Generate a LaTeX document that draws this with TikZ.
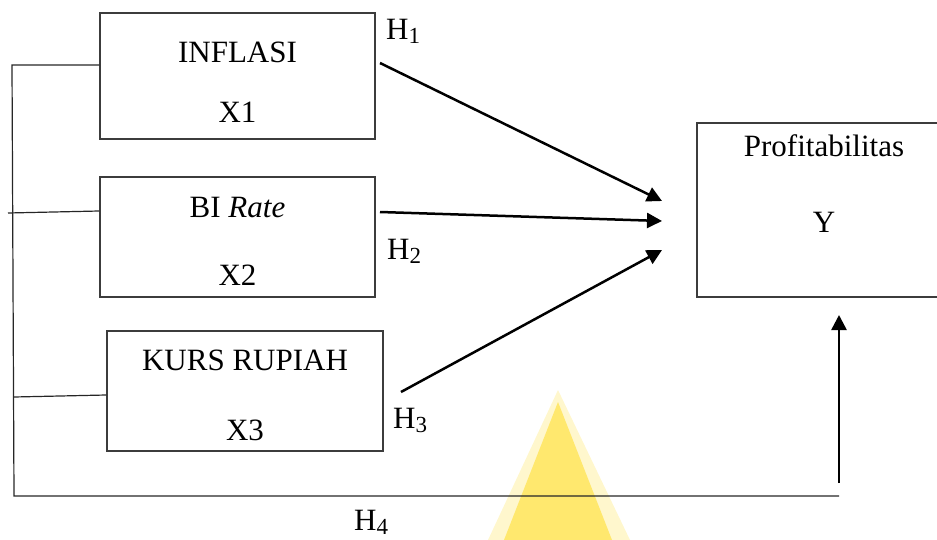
\documentclass[tikz,border=0pt]{standalone}
\usepackage{fontspec}
\setmainfont{Liberation Serif}
\usetikzlibrary{arrows.meta,calc}
\definecolor{wmouter}{RGB}{255,247,205}
\definecolor{wminner}{RGB}{255,232,110}
\definecolor{boxline}{RGB}{60,60,60}
\begin{document}
\begin{tikzpicture}[x=1pt,y=-1pt,
  txt/.style={font=\fontsize{31}{37}\selectfont, inner sep=0pt, anchor=base},
  hlab/.style={font=\fontsize{31}{37}\selectfont, inner sep=0pt, anchor=base west},
  varbox/.style={draw=boxline, line width=1.4pt, inner sep=0pt},
  conn/.style={draw=black!85, line width=1.2pt},
  arr/.style={draw=black, line width=2.5pt, -{Triangle[length=15pt,width=15pt]}}]
\useasboundingbox (0,0) rectangle (937,540);
% watermark
\fill[wmouter] (558,390) -- (630,540) -- (488,540) -- cycle;
\fill[wminner] (558,402) -- (612,540) -- (504,540) -- cycle;
% boxes
\node[varbox, minimum width=275pt, minimum height=126pt] (b1) at (237.5,76) {};
\node[varbox, minimum width=275pt, minimum height=120pt] (b2) at (237.5,237) {};
\node[varbox, minimum width=276pt, minimum height=120pt] (b3) at (245,391) {};
\node[varbox, minimum width=252pt, minimum height=174pt] (by) at (823,210) {};
% box texts
\node[txt] (t1a) at (237.5,63) {INFLASI};
\node[txt] (t1b) at (237.5,123) {X1};
\node[txt] (t2a) at (237.5,218) {BI \textit{Rate}};
\node[txt] (t2b) at (237.5,285) {X2};
\node[txt] (t3a) at (245,370) {KURS RUPIAH};
\node[txt] (t3b) at (245,440) {X3};
\node[txt] (tya) at (824,157) {Profitabilitas};
\node[txt] (tyb) at (824,233) {Y};
% hypothesis labels
\node[hlab] (h1) at (386,40) {H\raisebox{-4pt}{\fontsize{23}{23}\selectfont 1}};
\node[hlab] (h2) at (387,259) {H\raisebox{-4pt}{\fontsize{23}{23}\selectfont 2}};
\node[hlab] (h3) at (393,428) {H\raisebox{-4pt}{\fontsize{23}{23}\selectfont 3}};
\node[hlab] (h4) at (354,530) {H\raisebox{-4pt}{\fontsize{23}{23}\selectfont 4}};
% arrow coordinates
\coordinate (s1) at (380,63);
\coordinate (e1) at (662,201);
\coordinate (s2) at (380,212);
\coordinate (e2) at (662,221);
\coordinate (s3) at (401,392);
\coordinate (e3) at (662,250);
\coordinate (ua) at (839,483);
\coordinate (ut) at (839,315);
% left bracket coordinates
\coordinate (l1) at (12,65);
\coordinate (l2) at (8,213);
\coordinate (l3) at (14,397);
\coordinate (lb) at (14,496);
\coordinate (lr) at (839,496);
% left connectors
\draw[conn] (b1.west |- l1) -- (l1) -- (lb) -- (lr);
\draw[conn] (b2.west |- 0,211) -- (l2);
\draw[conn] (b3.west |- 0,395) -- (l3);
% arrows
\draw[arr] (s1) -- (e1);
\draw[arr] (s2) -- (e2);
\draw[arr] (s3) -- (e3);
\draw[arr] (ua) -- (ut);
\end{tikzpicture}
\end{document}
